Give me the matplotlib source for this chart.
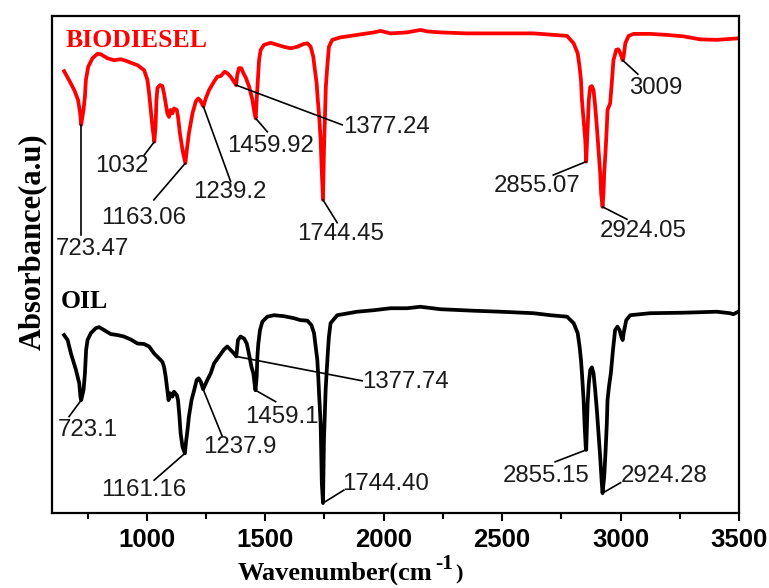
import matplotlib
matplotlib.use("Agg")
import matplotlib.pyplot as plt

# ---------------- data ----------------
bio_wn = [651, 672, 694, 710, 719, 723, 733, 739, 743, 753, 771, 792, 806, 834, 862, 890, 912, 933,
          961, 989, 1003, 1010, 1017, 1024, 1032, 1037, 1041, 1045, 1056, 1066, 1073, 1080, 1087, 1094,
          1101, 1108, 1115, 1127, 1132, 1140, 1151, 1163, 1169, 1178, 1193, 1207, 1217, 1225, 1239,
          1249, 1263, 1284, 1298, 1312, 1329, 1340, 1354, 1368, 1377, 1382, 1389, 1399, 1408, 1418,
          1432, 1446, 1455, 1460, 1464, 1470, 1474, 1481, 1495, 1523, 1551, 1579, 1607, 1635, 1664,
          1678, 1692, 1703, 1708, 1717, 1722, 1728, 1734, 1738, 1744, 1748, 1752, 1756, 1762, 1769,
          1783, 1818, 1888, 1958, 1987, 2029, 2099, 2155, 2184, 2240, 2352, 2493, 2633, 2774, 2802,
          2819, 2827, 2833, 2837, 2844, 2851, 2855, 2861, 2866, 2872, 2879, 2886, 2893, 2900, 2907,
          2914, 2918, 2924, 2928, 2931, 2937, 2942, 2945, 2956, 2963, 2970, 2982, 2991, 2999, 3009,
          3013, 3020, 3034, 3055, 3125, 3195, 3266, 3336, 3406, 3497]
bio_ab = [88.9, 87.1, 85.1, 83.1, 80.4, 78.1, 81.1, 83.8, 87.1, 89.8, 91.5, 92.4, 92.3, 91.5, 91.1,
          91.3, 91.0, 90.6, 90.1, 89.1, 87.1, 84.4, 81.1, 77.7, 74.7, 77.7, 83.1, 85.5, 86.1, 85.9,
          84.4, 82.4, 80.4, 79.7, 81.1, 80.4, 81.4, 81.1, 79.7, 76.4, 73.0, 70.4, 73.0, 76.4, 80.4,
          82.8, 83.4, 83.1, 81.8, 83.4, 85.1, 86.8, 87.8, 87.9, 88.8, 88.5, 87.8, 86.8, 86.1, 88.1,
          89.5, 89.5, 88.5, 87.6, 85.8, 83.1, 80.4, 79.4, 83.1, 87.8, 91.1, 93.2, 94.2, 94.6, 94.2,
          93.8, 93.5, 93.8, 94.4, 94.5, 93.8, 91.8, 89.8, 86.5, 83.1, 79.7, 75.1, 69.7, 63.0, 73.0,
          79.7, 85.8, 89.8, 93.8, 95.2, 95.7, 96.2, 96.7, 97.0, 96.5, 96.7, 97.2, 96.9, 96.7, 96.5,
          96.5, 96.5, 96.0, 94.5, 92.5, 89.8, 87.1, 83.1, 79.1, 75.1, 70.7, 77.7, 83.1, 85.7, 85.9,
          85.1, 81.8, 77.7, 73.0, 68.4, 64.3, 61.6, 64.3, 68.4, 73.0, 77.7, 81.1, 82.4, 86.5, 91.1,
          93.2, 93.3, 92.5, 91.1, 91.8, 94.5, 96.0, 96.4, 96.4, 96.2, 95.9, 95.3, 95.2, 95.5]

oil_wn = [651, 666, 680, 701, 715, 720, 723, 733, 739, 744, 750, 764, 785, 799, 820, 848, 877, 904,
          933, 961, 989, 1010, 1031, 1052, 1066, 1073, 1080, 1087, 1092, 1099, 1108, 1115, 1127, 1132,
          1138, 1143, 1151, 1161, 1165, 1172, 1178, 1189, 1200, 1211, 1219, 1228, 1238, 1256, 1270,
          1284, 1305, 1326, 1340, 1354, 1368, 1378, 1385, 1396, 1411, 1422, 1428, 1436, 1442, 1450,
          1455, 1459, 1464, 1467, 1471, 1478, 1488, 1509, 1537, 1579, 1621, 1649, 1678, 1695, 1706,
          1713, 1720, 1724, 1728, 1734, 1737, 1739, 1744, 1748, 1752, 1755, 1759, 1765, 1769, 1776,
          1804, 1888, 1958, 2029, 2099, 2155, 2240, 2380, 2493, 2633, 2703, 2774, 2802, 2819, 2827,
          2833, 2838, 2844, 2848, 2853, 2855, 2861, 2866, 2872, 2879, 2886, 2893, 2900, 2907, 2914,
          2920, 2924, 2931, 2937, 2942, 2945, 2951, 2959, 2968, 2977, 2987, 2996, 3003, 3009, 3013,
          3024, 3041, 3125, 3266, 3406, 3462, 3476, 3497]
oil_ab = [35.8, 34.8, 32.1, 28.8, 26.1, 23.4, 22.7, 24.7, 28.1, 32.8, 34.8, 36.2, 37.2, 37.4, 36.8,
          36.0, 35.8, 35.5, 34.9, 34.1, 34.0, 33.5, 32.1, 31.1, 30.4, 29.4, 27.4, 24.7, 22.7, 24.1,
          23.4, 24.4, 23.7, 22.7, 19.4, 16.0, 13.3, 12.0, 14.0, 16.7, 19.4, 22.7, 24.7, 26.8, 27.1,
          26.4, 24.9, 26.8, 28.1, 30.1, 31.5, 32.9, 33.5, 32.8, 32.1, 31.5, 34.8, 35.5, 35.1, 34.1,
          32.8, 30.8, 29.4, 28.1, 26.1, 24.7, 27.4, 31.5, 34.1, 36.8, 38.5, 39.5, 39.8, 39.6, 39.2,
          38.8, 38.7, 37.8, 36.2, 33.5, 30.8, 27.4, 23.4, 18.0, 11.3, 6.0, 2.0, 14.7, 20.1, 24.7,
          28.1, 32.8, 35.5, 38.2, 39.8, 40.5, 40.8, 41.2, 41.2, 41.5, 41.0, 40.7, 40.5, 40.2, 39.8,
          39.5, 38.2, 36.2, 33.5, 30.8, 27.4, 22.7, 18.0, 13.3, 12.7, 22.1, 26.1, 28.8, 29.3, 28.1,
          24.7, 20.7, 16.0, 11.3, 6.6, 4.0, 7.3, 12.7, 18.0, 22.7, 25.4, 28.1, 32.8, 36.8, 37.5,
          36.8, 35.5, 34.8, 36.2, 38.8, 39.8, 40.2, 40.3, 40.5, 40.2, 40.0, 40.5]

# peak labels
bio_labels = ["723.47", "1032", "1163.06", "1239.2", "1459.92", "1377.24",
              "1744.45", "2855.07", "2924.05", "3009"]
bio_peak_wn = [723, 1032, 1163, 1239, 1460, 1377, 1744, 2855, 2924, 3009]
bio_peak_ab = [78.1, 74.7, 70.4, 81.8, 79.4, 86.1, 63.0, 70.7, 61.6, 91.1]
bio_end_wn = [723, 989, 1030, 1354, 1509, 1825, 1804, 2716, 3027, 3073]
bio_end_ab = [55.9, 72.0, 63.0, 66.7, 76.7, 78.1, 58.4, 68.0, 59.1, 88.3]
bio_txt_wn = [770, 895, 988, 1350, 1523, 2010, 1820, 2649, 3095, 3148]
bio_txt_ab = [53.1, 69.8, 59.4, 64.6, 73.8, 77.7, 56.1, 65.8, 56.7, 85.5]

oil_labels = ["723.1", "1161.16", "1237.9", "1459.1", "1377.74", "1744.40", "2855.15", "2924.28"]
oil_peak_wn = [723, 1161, 1238, 1459, 1378, 1744, 2855, 2924]
oil_peak_ab = [22.7, 12.0, 24.9, 24.7, 31.5, 2.0, 12.7, 4.0]
oil_end_wn = [672, 1031, 1319, 1544, 1909, 1832, 2724, 3000]
oil_end_ab = [19.4, 6.6, 15.4, 22.4, 26.6, 4.6, 10.3, 6.1]
oil_txt_wn = [751, 988, 1392, 1569, 2094, 2010, 2686, 3184]
oil_txt_ab = [16.7, 4.6, 13.3, 19.3, 26.4, 5.8, 7.4, 7.4]

xticks = [1000, 1500, 2000, 2500, 3000, 3500]

# ---------------- plot ----------------
W, H = 769, 588
fig = plt.figure(figsize=(W / 100, H / 100), dpi=100)
ax = fig.add_axes([52 / W, 1 - 513 / H, 687 / W, 497 / H])

ax.plot(bio_wn, bio_ab, color="#ff0000", lw=2.7, solid_joinstyle="round")
ax.plot(oil_wn, oil_ab, color="black", lw=2.7, solid_joinstyle="round")

ann_font = dict(family=["Liberation Sans", "DejaVu Sans"], size=17.3)
for lab, pw, pa, ew, ea, tw, ta in zip(bio_labels, bio_peak_wn, bio_peak_ab, bio_end_wn,
                                        bio_end_ab, bio_txt_wn, bio_txt_ab):
    ax.plot([pw, ew], [pa, ea], color="black", lw=1.2)
    ax.text(tw, ta, lab, ha="center", va="center", color="#1a1a1a", **ann_font)
for lab, pw, pa, ew, ea, tw, ta in zip(oil_labels, oil_peak_wn, oil_peak_ab, oil_end_wn,
                                        oil_end_ab, oil_txt_wn, oil_txt_ab):
    ax.plot([pw, ew], [pa, ea], color="black", lw=1.2)
    ax.text(tw, ta, lab, ha="center", va="center", color="#1a1a1a", **ann_font)

serif = ["Liberation Serif", "DejaVu Serif"]
ax.text(658, 95.0, "BIODIESEL", color="#ff0000", ha="left", va="center", size=18.5,
        family=serif, weight="bold")
ax.text(637, 42.6, "OIL", color="black", ha="left", va="center", size=18.5,
        family=serif, weight="bold")

ax.set_xlim(600, 3500)
ax.set_ylim(0, 100)
ax.set_xticks(xticks)
ax.set_xticks([750, 1250, 1750, 2250, 2750, 3250], minor=True)
ax.set_yticks([])
ax.tick_params(axis="x", which="major", direction="out", length=6, width=1.5, pad=5)
ax.tick_params(axis="x", which="minor", direction="out", length=4, width=1.5)
for lbl in ax.get_xticklabels():
    lbl.set_fontfamily(["Liberation Sans", "DejaVu Sans"])
    lbl.set_fontweight("bold")
    lbl.set_fontsize(18.5)
for sp in ax.spines.values():
    sp.set_linewidth(1.6)

# x label built from pieces: main text, superscript, closing bracket
fig.text(238 / W, 1 - 580 / H, "Wavenumber(cm", ha="left", va="baseline", size=19,
         family=serif, weight="bold")
fig.text(435 / W, 1 - 569 / H, "-1", ha="left", va="baseline", size=15.5,
         family=serif, weight="bold")
fig.text(455 / W, 1 - 579 / H, ")", ha="left", va="baseline", size=16,
         family=serif, weight="bold")

fig.text(32 / W, 1 - 242 / H, "Absorbance(a.u)", rotation=90, ha="center", va="center",
         size=22, family=serif, weight="bold")

fig.savefig("out.png", dpi=100)
